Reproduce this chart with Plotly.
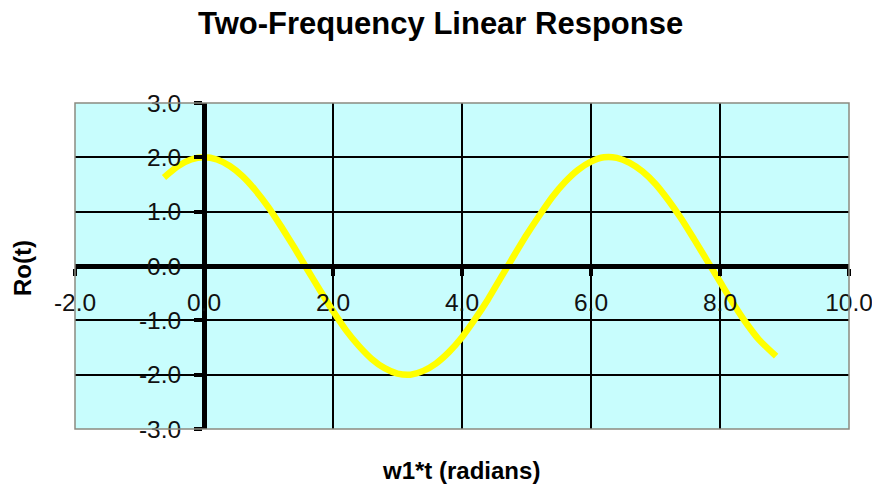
import plotly.graph_objects as go

# Data
w1t = [-0.62, -0.4, -0.2, 0.0, 0.2, 0.4, 0.6, 0.8, 1.0, 1.2, 1.4, 1.6, 1.8, 2.0,
       2.2, 2.4, 2.6, 2.8, 3.0, 3.2, 3.4, 3.6, 3.8, 4.0, 4.2, 4.4, 4.6, 4.8,
       5.0, 5.2, 5.4, 5.6, 5.8, 6.0, 6.2, 6.4, 6.6, 6.8, 7.0, 7.2, 7.4, 7.6,
       7.8, 8.0, 8.2, 8.4, 8.6, 8.87]
ro_t = [1.63, 1.84, 1.96, 2.00, 1.96, 1.84, 1.65, 1.39, 1.08, 0.72, 0.34, -0.06,
        -0.45, -0.83, -1.18, -1.47, -1.71, -1.88, -1.98, -2.00, -1.93, -1.79,
        -1.58, -1.31, -0.98, -0.62, -0.22, 0.18, 0.57, 0.93, 1.27, 1.55, 1.77,
        1.92, 2.00, 1.99, 1.90, 1.74, 1.51, 1.21, 0.87, 0.49, 0.10, -0.29,
        -0.68, -1.04, -1.35, -1.66]

x_range = [-2, 10]
y_range = [-3, 3]
x_ticks = [-2, 0, 2, 4, 6, 8, 10]
y_ticks = [-3, -2, -1, 0, 1, 2, 3]
x_tick_labels = ["-2.0", "0.0", "2.0", "4.0", "6.0", "8.0", "10.0"]
y_tick_labels = ["-3.0", "-2.0", "-1.0", "0.0", "1.0", "2.0", "3.0"]

title_text = "Two-Frequency Linear Response"
x_title = "w1*t (radians)"
y_title = "Ro(t)"

W, H = 872, 485
L, R, T, B = 75, 23, 103, 56

fig = go.Figure()
fig.add_trace(go.Scatter(x=w1t, y=ro_t, mode="lines",
                         line=dict(color="#FFFF00", width=6.5, shape="spline", smoothing=0.6),
                         hoverinfo="skip", showlegend=False))

font_family = "Liberation Sans, Arial, sans-serif"

fig.update_layout(
    width=W, height=H,
    margin=dict(l=L, r=R, t=T, b=B, autoexpand=False),
    paper_bgcolor="white",
    plot_bgcolor="#c8fdfd",
    showlegend=False,
    xaxis=dict(range=x_range, tickvals=x_ticks, ticktext=x_tick_labels,
               showgrid=True, gridcolor="black", gridwidth=1.5,
               zeroline=False, showline=True, linecolor="black", linewidth=5,
               anchor="free", position=(0 - y_range[0]) / (y_range[1] - y_range[0]),
               ticks="outside", ticklen=7, tickwidth=4, tickcolor="black",
               ticklabelstandoff=6, ticklabeloverflow="allow",
               tickfont=dict(family=font_family, size=24.5, color="#111111"),
               automargin=False, fixedrange=True),
    yaxis=dict(range=y_range, tickvals=y_ticks, ticktext=y_tick_labels,
               showgrid=True, gridcolor="black", gridwidth=1.5,
               zeroline=False, showline=True, linecolor="black", linewidth=5,
               anchor="free", position=(0 - x_range[0]) / (x_range[1] - x_range[0]),
               ticks="outside", ticklen=8, tickwidth=4, tickcolor="black",
               ticklabelstandoff=8, ticklabeloverflow="allow",
               tickfont=dict(family=font_family, size=24.5, color="#111111"),
               automargin=False, fixedrange=True),
    shapes=[dict(type="rect", xref="paper", yref="paper", x0=0, x1=1, y0=0, y1=1,
                 line=dict(color="#8a8a80", width=1.5), layer="above")],
    annotations=[
        dict(text="<b>" + title_text + "</b>", xref="paper", yref="paper",
             x=(440 - L) / (W - L - R), y=1 + (T - 23) / (H - T - B),
             xanchor="center", yanchor="middle", showarrow=False,
             font=dict(family=font_family, size=31, color="black")),
        dict(text="<b>" + x_title + "</b>", xref="paper", yref="paper",
             x=(461 - L) / (W - L - R), y=-(470 - (H - B)) / (H - T - B),
             xanchor="center", yanchor="middle", showarrow=False,
             font=dict(family=font_family, size=24, color="black")),
        dict(text="<b>" + y_title + "</b>", xref="paper", yref="paper",
             x=-(L - 22) / (W - L - R), y=(H - B - 268) / (H - T - B),
             xanchor="center", yanchor="middle", showarrow=False, textangle=-90,
             font=dict(family=font_family, size=24, color="black")),
    ],
)

fig.write_html("out.html", config={"displayModeBar": False},
               post_script="document.body.style.margin='0';document.body.style.overflow='hidden';")
